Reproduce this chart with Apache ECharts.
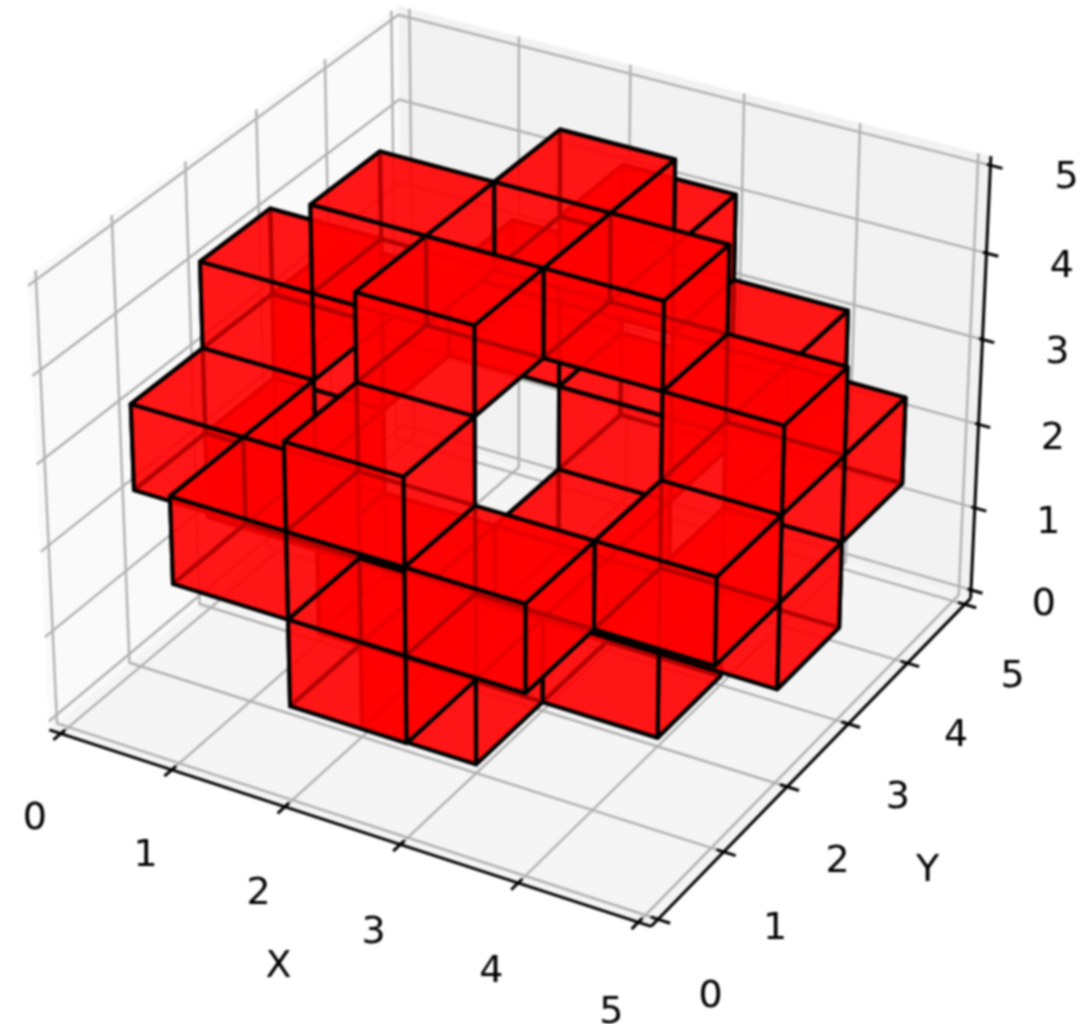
<!DOCTYPE html>
<html style="height: 100%">
<head>
    <meta charset="utf-8">
    <script src="https://cdn.jsdelivr.net/npm/echarts@6/dist/echarts.min.js"></script>
</head>
<body style="height: 100%; margin: 0; background: #fff">
<div id="container" style="width: 1081px; height: 1024px; filter: blur(0.8px)"></div>
<script type="text/javascript">
// voxels, [x, y, z] of each cube's low corner
var voxels = [
    [2, 0, 1], [3, 0, 2], [2, 0, 3], [1, 0, 2],
    [0, 1, 2], [2, 1, 0], [2, 1, 4], [4, 1, 2],
    [0, 2, 1], [0, 2, 3], [1, 2, 0], [1, 2, 4],
    [3, 2, 0], [3, 2, 4], [4, 2, 1], [4, 2, 3],
    [0, 3, 2], [2, 3, 0], [2, 3, 4], [4, 3, 2],
    [2, 4, 1], [3, 4, 2], [2, 4, 3], [1, 4, 2]
];
var xTicks = [0, 1, 2, 3, 4, 5];
var yTicks = [0, 1, 2, 3, 4, 5];
var zTicks = [0, 1, 2, 3, 4, 5];
var axisNames = ['X', 'Y'];

// camera, same as a default mplot3d view
var elev = 30 * Math.PI / 180;
var azim = -60 * Math.PI / 180;
var dist = 10;
var box = [1.1428, 1.1428, 0.8571];
var pad = 5 / 48;
var lo = -pad, hi = 5 + pad;

var nv = [Math.cos(elev) * Math.cos(azim), Math.cos(elev) * Math.sin(azim), Math.sin(elev)];
var uv = [-Math.sin(azim), Math.cos(azim), 0];
var vv = [-Math.sin(elev) * Math.cos(azim), -Math.sin(elev) * Math.sin(azim), Math.cos(elev)];

function dot(a, b) {
    return a[0] * b[0] + a[1] * b[1] + a[2] * b[2];
}
function center(p) {
    return [(p[0] / 5 - 0.5) * box[0], (p[1] / 5 - 0.5) * box[1], (p[2] / 5 - 0.5) * box[2]];
}
function project(p) {
    var q = center(p);
    var w = dist - dot(nv, q);
    return [dot(uv, q) / w, dot(vv, q) / w];
}
function depth(p) {
    return -dist / (dist - dot(nv, center(p)));
}

// the six faces of every cube, far ones first
var faces = [];
voxels.forEach(function (c) {
    var x = c[0], y = c[1], z = c[2];
    var a = [x, y, z], b = [x + 1, y, z], d = [x + 1, y + 1, z], e = [x, y + 1, z];
    var f = [x, y, z + 1], g = [x + 1, y, z + 1], h = [x + 1, y + 1, z + 1], i = [x, y + 1, z + 1];
    [[a, b, d, e], [f, g, h, i], [a, b, g, f], [e, d, h, i], [a, e, i, f], [b, d, h, g]].forEach(function (pts) {
        var s = 0;
        pts.forEach(function (p) { s += depth(p); });
        faces.push({pts: pts, tz: s / 4});
    });
});
faces.sort(function (m, n) { return n.tz - m.tz; });

var panes = [
    {pts: [[lo, lo, lo], [lo, hi, lo], [lo, hi, hi], [lo, lo, hi]], color: '#fafafa'},
    {pts: [[lo, hi, lo], [hi, hi, lo], [hi, hi, hi], [lo, hi, hi]], color: '#f2f2f2'},
    {pts: [[lo, lo, lo], [hi, lo, lo], [hi, hi, lo], [lo, hi, lo]], color: '#f5f5f5'}
];

var gridLines = [];
xTicks.forEach(function (t) { gridLines.push([[t, lo, lo], [t, hi, lo], [t, hi, hi]]); });
yTicks.forEach(function (t) { gridLines.push([[hi, t, lo], [lo, t, lo], [lo, t, hi]]); });
zTicks.forEach(function (t) { gridLines.push([[hi, hi, t], [lo, hi, t], [lo, lo, t]]); });

var axisLines = [
    [[lo, lo, lo], [hi, lo, lo]],
    [[hi, lo, lo], [hi, hi, lo]],
    [[hi, hi, lo], [hi, hi, hi]]
];
xTicks.forEach(function (t) { axisLines.push([[t, lo - 0.1, lo], [t, lo + 0.06, lo]]); });
yTicks.forEach(function (t) { axisLines.push([[hi + 0.1, t, lo], [hi - 0.06, t, lo]]); });
zTicks.forEach(function (t) { axisLines.push([[hi + 0.1, hi, t], [hi - 0.03, hi, t]]); });

var labels = [];
xTicks.forEach(function (t) { labels.push({text: String(t), pos: [t, lo - 0.39, lo - 0.74]}); });
yTicks.forEach(function (t) { labels.push({text: String(t), pos: [hi + 0.44, t, lo - 0.71]}); });
zTicks.forEach(function (t) { labels.push({text: String(t), pos: [hi + 0.63, hi, t + 0.07]}); });
labels.push({text: axisNames[0], pos: [2.49, lo - 0.9, lo - 0.97]});
labels.push({text: axisNames[1], pos: [hi + 0.95, 2.5, lo - 0.97]});

var dom = document.getElementById("container");
var myChart = echarts.init(dom);

var pxScale = 5790, pxX = 518.5, pxY = 444;

function screen(api, p) {
    return api.coord(project(p));
}
function rowsOf(list) {
    return list.map(function (item, i) { return [i]; });
}
function polySeries(list, stroke, width) {
    return {
        type: 'custom',
        coordinateSystem: 'cartesian2d',
        silent: true,
        animation: false,
        clip: false,
        data: rowsOf(list),
        renderItem: function (params, api) {
            var it = list[params.dataIndex];
            return {
                type: 'polygon',
                shape: {points: it.pts.map(function (p) { return screen(api, p); })},
                style: {fill: it.color || 'rgba(255,0,0,0.7)', stroke: stroke, lineWidth: width, lineJoin: 'round'}
            };
        }
    };
}
function lineSeries(list, color, width) {
    return {
        type: 'custom',
        coordinateSystem: 'cartesian2d',
        silent: true,
        animation: false,
        clip: false,
        data: rowsOf(list),
        renderItem: function (params, api) {
            return {
                type: 'polyline',
                shape: {points: list[params.dataIndex].map(function (p) { return screen(api, p); })},
                style: {fill: null, stroke: color, lineWidth: width}
            };
        }
    };
}

option = {
    backgroundColor: '#fff',
    animation: false,
    grid: {left: 0, right: 0, top: 0, bottom: 0},
    xAxis: {type: 'value', show: false, min: -pxX / pxScale, max: (1081 - pxX) / pxScale},
    yAxis: {type: 'value', show: false, min: (pxY - 1024) / pxScale, max: pxY / pxScale},
    series: [
        polySeries(panes, null, 0),
        lineSeries(gridLines, '#b0b0b0', 2.4),
        lineSeries(axisLines, '#000', 3),
        polySeries(faces, '#000', 4),
        {
            type: 'custom',
            coordinateSystem: 'cartesian2d',
            silent: true,
            animation: false,
            clip: false,
            data: rowsOf(labels),
            renderItem: function (params, api) {
                var it = labels[params.dataIndex];
                var c = screen(api, it.pos);
                return {
                    type: 'text',
                    x: c[0],
                    y: c[1],
                    style: {
                        text: it.text,
                        fill: '#000',
                        font: '38px "DejaVu Sans"',
                        align: 'center',
                        verticalAlign: 'middle'
                    }
                };
            }
        }
    ]
};

myChart.setOption(option);
</script>
</body>
</html>
